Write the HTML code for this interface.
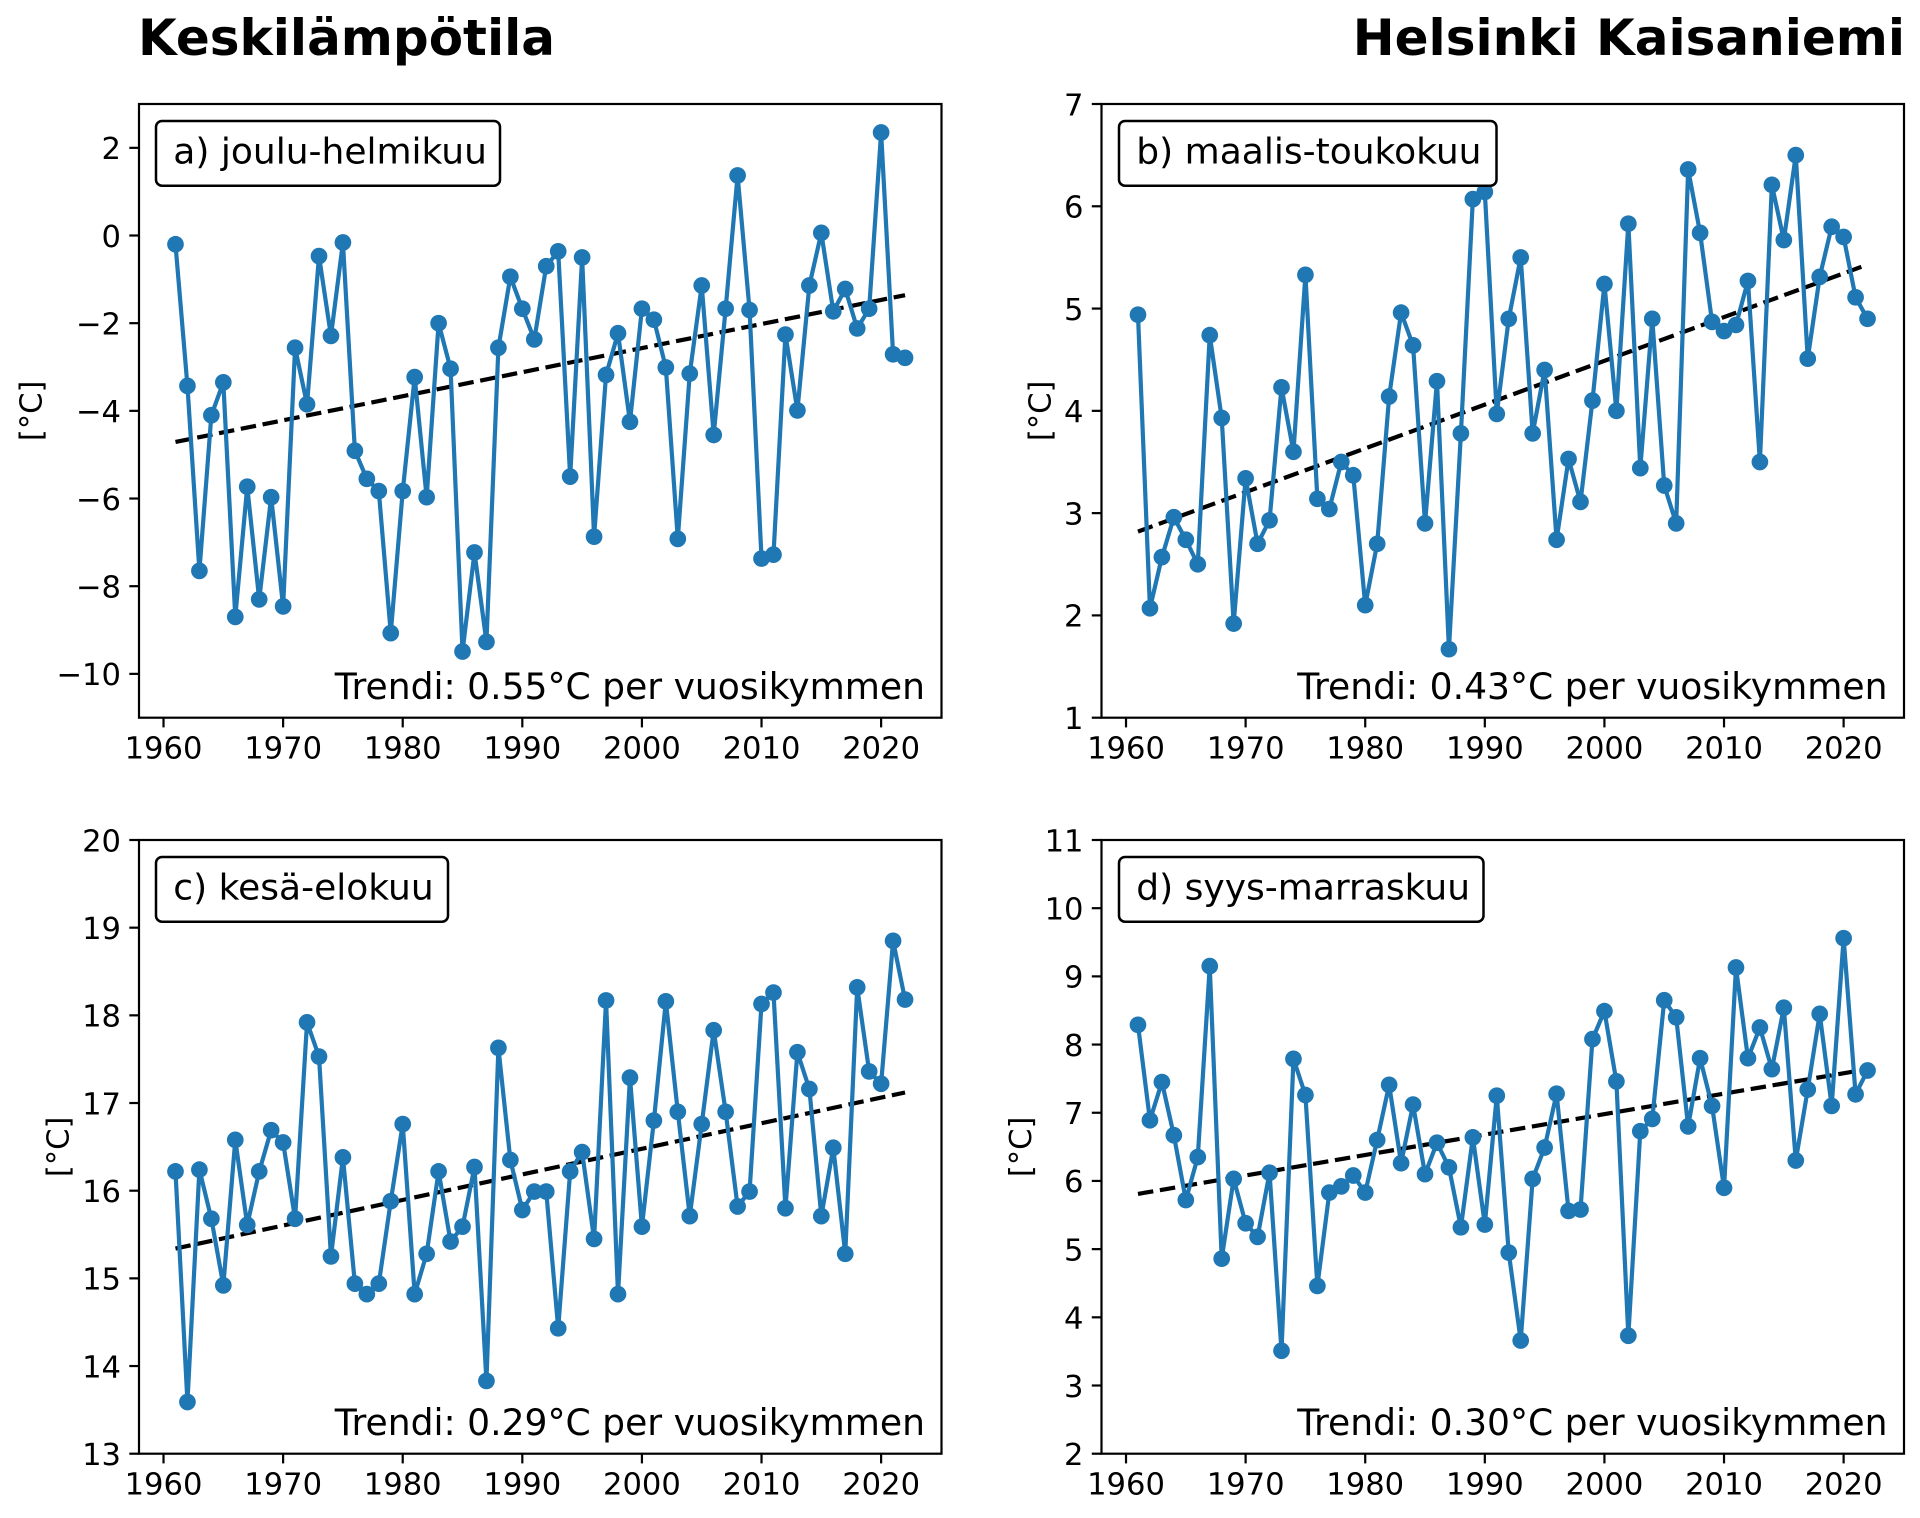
<!DOCTYPE html>
<html><head><meta charset="utf-8"><style>
html,body{margin:0;padding:0;background:#fff;}
svg{display:block;}
text{font-family:"DejaVu Sans","Liberation Sans",sans-serif;fill:#000;}
.tk{font-size:30.6px;}
.lg{font-size:36px;}
.tr{font-size:36.1px;}
.tt{font-size:50px;font-weight:bold;}
</style></head><body>
<svg width="1920" height="1518" viewBox="0 0 1920 1518" xmlns="http://www.w3.org/2000/svg">
<rect x="0" y="0" width="1920" height="1518" fill="#fff"/>

<!-- Titles -->
<text class="tt" x="138" y="55">Keskilämpötila</text>
<text class="tt" x="1905" y="55" text-anchor="end">Helsinki Kaisaniemi</text>

<!-- ===================== PANEL A ===================== -->
<g>
<line x1="175.48" y1="441.98" x2="905.04" y2="295.13" stroke="#000" stroke-width="4.2" stroke-dasharray="15.5 6.7"/>
<g transform="matrix(11.96 0 0 -43.836 -23278.08 235.51)">
<polyline fill="none" stroke="#1f77b4" stroke-width="4.2" stroke-linejoin="round" vector-effect="non-scaling-stroke" points="1961,-0.2 1962,-3.43 1963,-7.65 1964,-4.1 1965,-3.35 1966,-8.7 1967,-5.73 1968,-8.3 1969,-5.97 1970,-8.46 1971,-2.56 1972,-3.85 1973,-0.47 1974,-2.29 1975,-0.16 1976,-4.91 1977,-5.55 1978,-5.83 1979,-9.07 1980,-5.83 1981,-3.23 1982,-5.97 1983,-2.0 1984,-3.04 1985,-9.49 1986,-7.23 1987,-9.27 1988,-2.56 1989,-0.94 1990,-1.67 1991,-2.37 1992,-0.7 1993,-0.36 1994,-5.5 1995,-0.5 1996,-6.87 1997,-3.18 1998,-2.23 1999,-4.25 2000,-1.67 2001,-1.92 2002,-3.01 2003,-6.92 2004,-3.15 2005,-1.14 2006,-4.55 2007,-1.67 2008,1.37 2009,-1.7 2010,-7.37 2011,-7.28 2012,-2.26 2013,-3.99 2014,-1.14 2015,0.06 2016,-1.73 2017,-1.22 2018,-2.12 2019,-1.67 2020,2.35 2021,-2.71 2022,-2.79"/>
<path fill="none" stroke="#1f77b4" stroke-width="16.7" stroke-linecap="round" vector-effect="non-scaling-stroke" d="M1961 -0.2h0M1962 -3.43h0M1963 -7.65h0M1964 -4.1h0M1965 -3.35h0M1966 -8.7h0M1967 -5.73h0M1968 -8.3h0M1969 -5.97h0M1970 -8.46h0M1971 -2.56h0M1972 -3.85h0M1973 -0.47h0M1974 -2.29h0M1975 -0.16h0M1976 -4.91h0M1977 -5.55h0M1978 -5.83h0M1979 -9.07h0M1980 -5.83h0M1981 -3.23h0M1982 -5.97h0M1983 -2.0h0M1984 -3.04h0M1985 -9.49h0M1986 -7.23h0M1987 -9.27h0M1988 -2.56h0M1989 -0.94h0M1990 -1.67h0M1991 -2.37h0M1992 -0.7h0M1993 -0.36h0M1994 -5.5h0M1995 -0.5h0M1996 -6.87h0M1997 -3.18h0M1998 -2.23h0M1999 -4.25h0M2000 -1.67h0M2001 -1.92h0M2002 -3.01h0M2003 -6.92h0M2004 -3.15h0M2005 -1.14h0M2006 -4.55h0M2007 -1.67h0M2008 1.37h0M2009 -1.7h0M2010 -7.37h0M2011 -7.28h0M2012 -2.26h0M2013 -3.99h0M2014 -1.14h0M2015 0.06h0M2016 -1.73h0M2017 -1.22h0M2018 -2.12h0M2019 -1.67h0M2020 2.35h0M2021 -2.71h0M2022 -2.79h0"/>
</g>
<rect x="139" y="104" width="802.5" height="613.7" fill="none" stroke="#000" stroke-width="2.2"/>
<g stroke="#000" stroke-width="2.2">
<line x1="163.52" y1="717.7" x2="163.52" y2="727.4"/><line x1="283.12" y1="717.7" x2="283.12" y2="727.4"/><line x1="402.72" y1="717.7" x2="402.72" y2="727.4"/><line x1="522.32" y1="717.7" x2="522.32" y2="727.4"/><line x1="641.92" y1="717.7" x2="641.92" y2="727.4"/><line x1="761.52" y1="717.7" x2="761.52" y2="727.4"/><line x1="881.12" y1="717.7" x2="881.12" y2="727.4"/>
<line x1="129.3" y1="147.84" x2="139" y2="147.84"/><line x1="129.3" y1="235.51" x2="139" y2="235.51"/><line x1="129.3" y1="323.18" x2="139" y2="323.18"/><line x1="129.3" y1="410.85" x2="139" y2="410.85"/><line x1="129.3" y1="498.53" x2="139" y2="498.53"/><line x1="129.3" y1="586.2" x2="139" y2="586.2"/><line x1="129.3" y1="673.87" x2="139" y2="673.87"/>
</g>
<g text-anchor="middle">
<text class="tk" x="163.52" y="758.5">1960</text><text class="tk" x="283.12" y="758.5">1970</text><text class="tk" x="402.72" y="758.5">1980</text><text class="tk" x="522.32" y="758.5">1990</text><text class="tk" x="641.92" y="758.5">2000</text><text class="tk" x="761.52" y="758.5">2010</text><text class="tk" x="881.12" y="758.5">2020</text>
</g>
<g text-anchor="end">
<text class="tk" x="121" y="159.1">2</text><text class="tk" x="121" y="246.8">0</text><text class="tk" x="121" y="334.5">−2</text><text class="tk" x="121" y="422.2">−4</text><text class="tk" x="121" y="509.8">−6</text><text class="tk" x="121" y="597.5">−8</text><text class="tk" x="121" y="685.2">−10</text>
</g>
<text class="tk" text-anchor="middle" transform="translate(41.6,410.85) rotate(-90)">[°C]</text>
<rect x="156" y="121" width="344" height="64.7" rx="6" ry="6" fill="#fff" stroke="#000" stroke-width="2.5"/>
<text class="lg" x="173.3" y="163.3">a) joulu-helmikuu</text>
<text class="tr" x="925" y="699.2" text-anchor="end">Trendi: 0.55°C per vuosikymmen</text>
</g>

<!-- ===================== PANEL B ===================== -->
<g>
<line x1="1137.98" y1="531.54" x2="1867.54" y2="264.58" stroke="#000" stroke-width="4.2" stroke-dasharray="15.5 6.7"/>
<g transform="matrix(11.96 0 0 -102.283 -22315.58 819.98)">
<polyline fill="none" stroke="#1f77b4" stroke-width="4.2" stroke-linejoin="round" vector-effect="non-scaling-stroke" points="1961,4.94 1962,2.07 1963,2.57 1964,2.96 1965,2.74 1966,2.5 1967,4.74 1968,3.93 1969,1.92 1970,3.34 1971,2.7 1972,2.93 1973,4.23 1974,3.6 1975,5.33 1976,3.14 1977,3.04 1978,3.5 1979,3.37 1980,2.1 1981,2.7 1982,4.14 1983,4.96 1984,4.64 1985,2.9 1986,4.29 1987,1.67 1988,3.78 1989,6.07 1990,6.14 1991,3.97 1992,4.9 1993,5.5 1994,3.78 1995,4.4 1996,2.74 1997,3.53 1998,3.11 1999,4.1 2000,5.24 2001,4.0 2002,5.83 2003,3.44 2004,4.9 2005,3.27 2006,2.9 2007,6.36 2008,5.74 2009,4.87 2010,4.78 2011,4.84 2012,5.27 2013,3.5 2014,6.21 2015,5.67 2016,6.5 2017,4.51 2018,5.31 2019,5.8 2020,5.7 2021,5.11 2022,4.9"/>
<path fill="none" stroke="#1f77b4" stroke-width="16.7" stroke-linecap="round" vector-effect="non-scaling-stroke" d="M1961 4.94h0M1962 2.07h0M1963 2.57h0M1964 2.96h0M1965 2.74h0M1966 2.5h0M1967 4.74h0M1968 3.93h0M1969 1.92h0M1970 3.34h0M1971 2.7h0M1972 2.93h0M1973 4.23h0M1974 3.6h0M1975 5.33h0M1976 3.14h0M1977 3.04h0M1978 3.5h0M1979 3.37h0M1980 2.1h0M1981 2.7h0M1982 4.14h0M1983 4.96h0M1984 4.64h0M1985 2.9h0M1986 4.29h0M1987 1.67h0M1988 3.78h0M1989 6.07h0M1990 6.14h0M1991 3.97h0M1992 4.9h0M1993 5.5h0M1994 3.78h0M1995 4.4h0M1996 2.74h0M1997 3.53h0M1998 3.11h0M1999 4.1h0M2000 5.24h0M2001 4.0h0M2002 5.83h0M2003 3.44h0M2004 4.9h0M2005 3.27h0M2006 2.9h0M2007 6.36h0M2008 5.74h0M2009 4.87h0M2010 4.78h0M2011 4.84h0M2012 5.27h0M2013 3.5h0M2014 6.21h0M2015 5.67h0M2016 6.5h0M2017 4.51h0M2018 5.31h0M2019 5.8h0M2020 5.7h0M2021 5.11h0M2022 4.9h0"/>
</g>
<rect x="1101.5" y="104" width="802.5" height="613.7" fill="none" stroke="#000" stroke-width="2.2"/>
<g stroke="#000" stroke-width="2.2">
<line x1="1126.02" y1="717.7" x2="1126.02" y2="727.4"/><line x1="1245.62" y1="717.7" x2="1245.62" y2="727.4"/><line x1="1365.22" y1="717.7" x2="1365.22" y2="727.4"/><line x1="1484.82" y1="717.7" x2="1484.82" y2="727.4"/><line x1="1604.42" y1="717.7" x2="1604.42" y2="727.4"/><line x1="1724.02" y1="717.7" x2="1724.02" y2="727.4"/><line x1="1843.62" y1="717.7" x2="1843.62" y2="727.4"/>
<line x1="1091.8" y1="717.7" x2="1101.5" y2="717.7"/><line x1="1091.8" y1="615.41" x2="1101.5" y2="615.41"/><line x1="1091.8" y1="513.13" x2="1101.5" y2="513.13"/><line x1="1091.8" y1="410.85" x2="1101.5" y2="410.85"/><line x1="1091.8" y1="308.57" x2="1101.5" y2="308.57"/><line x1="1091.8" y1="206.28" x2="1101.5" y2="206.28"/><line x1="1091.8" y1="104" x2="1101.5" y2="104"/>
</g>
<g text-anchor="middle">
<text class="tk" x="1126.02" y="758.5">1960</text><text class="tk" x="1245.62" y="758.5">1970</text><text class="tk" x="1365.22" y="758.5">1980</text><text class="tk" x="1484.82" y="758.5">1990</text><text class="tk" x="1604.42" y="758.5">2000</text><text class="tk" x="1724.02" y="758.5">2010</text><text class="tk" x="1843.62" y="758.5">2020</text>
</g>
<g text-anchor="end">
<text class="tk" x="1083.5" y="729">1</text><text class="tk" x="1083.5" y="626.7">2</text><text class="tk" x="1083.5" y="524.4">3</text><text class="tk" x="1083.5" y="422.2">4</text><text class="tk" x="1083.5" y="319.9">5</text><text class="tk" x="1083.5" y="217.6">6</text><text class="tk" x="1083.5" y="115.3">7</text>
</g>
<text class="tk" text-anchor="middle" transform="translate(1050.6,410.85) rotate(-90)">[°C]</text>
<rect x="1119" y="121" width="377.5" height="64.7" rx="6" ry="6" fill="#fff" stroke="#000" stroke-width="2.5"/>
<text class="lg" x="1136.3" y="163.3">b) maalis-toukokuu</text>
<text class="tr" x="1887.5" y="699.2" text-anchor="end">Trendi: 0.43°C per vuosikymmen</text>
</g>

<!-- ===================== PANEL C ===================== -->
<g>
<line x1="175.48" y1="1248.56" x2="905.04" y2="1092.5" stroke="#000" stroke-width="4.2" stroke-dasharray="15.5 6.7"/>
<g transform="matrix(11.96 0 0 -87.671 -23278.08 2593.43)">
<polyline fill="none" stroke="#1f77b4" stroke-width="4.2" stroke-linejoin="round" vector-effect="non-scaling-stroke" points="1961,16.22 1962,13.59 1963,16.24 1964,15.68 1965,14.92 1966,16.58 1967,15.61 1968,16.22 1969,16.69 1970,16.55 1971,15.68 1972,17.92 1973,17.53 1974,15.25 1975,16.38 1976,14.94 1977,14.82 1978,14.94 1979,15.88 1980,16.76 1981,14.82 1982,15.28 1983,16.22 1984,15.42 1985,15.59 1986,16.27 1987,13.83 1988,17.63 1989,16.35 1990,15.78 1991,15.99 1992,15.99 1993,14.43 1994,16.22 1995,16.44 1996,15.45 1997,18.17 1998,14.82 1999,17.29 2000,15.59 2001,16.8 2002,18.16 2003,16.9 2004,15.71 2005,16.76 2006,17.83 2007,16.9 2008,15.82 2009,15.99 2010,18.13 2011,18.26 2012,15.8 2013,17.58 2014,17.16 2015,15.71 2016,16.49 2017,15.28 2018,18.32 2019,17.36 2020,17.22 2021,18.85 2022,18.18"/>
<path fill="none" stroke="#1f77b4" stroke-width="16.7" stroke-linecap="round" vector-effect="non-scaling-stroke" d="M1961 16.22h0M1962 13.59h0M1963 16.24h0M1964 15.68h0M1965 14.92h0M1966 16.58h0M1967 15.61h0M1968 16.22h0M1969 16.69h0M1970 16.55h0M1971 15.68h0M1972 17.92h0M1973 17.53h0M1974 15.25h0M1975 16.38h0M1976 14.94h0M1977 14.82h0M1978 14.94h0M1979 15.88h0M1980 16.76h0M1981 14.82h0M1982 15.28h0M1983 16.22h0M1984 15.42h0M1985 15.59h0M1986 16.27h0M1987 13.83h0M1988 17.63h0M1989 16.35h0M1990 15.78h0M1991 15.99h0M1992 15.99h0M1993 14.43h0M1994 16.22h0M1995 16.44h0M1996 15.45h0M1997 18.17h0M1998 14.82h0M1999 17.29h0M2000 15.59h0M2001 16.8h0M2002 18.16h0M2003 16.9h0M2004 15.71h0M2005 16.76h0M2006 17.83h0M2007 16.9h0M2008 15.82h0M2009 15.99h0M2010 18.13h0M2011 18.26h0M2012 15.8h0M2013 17.58h0M2014 17.16h0M2015 15.71h0M2016 16.49h0M2017 15.28h0M2018 18.32h0M2019 17.36h0M2020 17.22h0M2021 18.85h0M2022 18.18h0"/>
</g>
<rect x="139" y="840" width="802.5" height="613.7" fill="none" stroke="#000" stroke-width="2.2"/>
<g stroke="#000" stroke-width="2.2">
<line x1="163.52" y1="1453.7" x2="163.52" y2="1463.4"/><line x1="283.12" y1="1453.7" x2="283.12" y2="1463.4"/><line x1="402.72" y1="1453.7" x2="402.72" y2="1463.4"/><line x1="522.32" y1="1453.7" x2="522.32" y2="1463.4"/><line x1="641.92" y1="1453.7" x2="641.92" y2="1463.4"/><line x1="761.52" y1="1453.7" x2="761.52" y2="1463.4"/><line x1="881.12" y1="1453.7" x2="881.12" y2="1463.4"/>
<line x1="129.3" y1="1453.7" x2="139" y2="1453.7"/><line x1="129.3" y1="1366.03" x2="139" y2="1366.03"/><line x1="129.3" y1="1278.36" x2="139" y2="1278.36"/><line x1="129.3" y1="1190.69" x2="139" y2="1190.69"/><line x1="129.3" y1="1103.02" x2="139" y2="1103.02"/><line x1="129.3" y1="1015.34" x2="139" y2="1015.34"/><line x1="129.3" y1="927.67" x2="139" y2="927.67"/><line x1="129.3" y1="840" x2="139" y2="840"/>
</g>
<g text-anchor="middle">
<text class="tk" x="163.52" y="1494.3">1960</text><text class="tk" x="283.12" y="1494.3">1970</text><text class="tk" x="402.72" y="1494.3">1980</text><text class="tk" x="522.32" y="1494.3">1990</text><text class="tk" x="641.92" y="1494.3">2000</text><text class="tk" x="761.52" y="1494.3">2010</text><text class="tk" x="881.12" y="1494.3">2020</text>
</g>
<g text-anchor="end">
<text class="tk" x="121" y="1465">13</text><text class="tk" x="121" y="1377.3">14</text><text class="tk" x="121" y="1289.7">15</text><text class="tk" x="121" y="1202">16</text><text class="tk" x="121" y="1114.3">17</text><text class="tk" x="121" y="1026.6">18</text><text class="tk" x="121" y="939">19</text><text class="tk" x="121" y="851.3">20</text>
</g>
<text class="tk" text-anchor="middle" transform="translate(68.5,1146.85) rotate(-90)">[°C]</text>
<rect x="156" y="857" width="292" height="64.7" rx="6" ry="6" fill="#fff" stroke="#000" stroke-width="2.5"/>
<text class="lg" x="173.3" y="899.3">c) kesä-elokuu</text>
<text class="tr" x="925" y="1435" text-anchor="end">Trendi: 0.29°C per vuosikymmen</text>
</g>

<!-- ===================== PANEL D ===================== -->
<g>
<line x1="1137.98" y1="1193.9" x2="1867.54" y2="1069.12" stroke="#000" stroke-width="4.2" stroke-dasharray="15.5 6.7"/>
<g transform="matrix(11.96 0 0 -68.189 -22315.58 1590.08)">
<polyline fill="none" stroke="#1f77b4" stroke-width="4.2" stroke-linejoin="round" vector-effect="non-scaling-stroke" points="1961,8.29 1962,6.89 1963,7.45 1964,6.67 1965,5.72 1966,6.35 1967,9.15 1968,4.86 1969,6.03 1970,5.38 1971,5.18 1972,6.12 1973,3.51 1974,7.79 1975,7.26 1976,4.46 1977,5.83 1978,5.92 1979,6.08 1980,5.83 1981,6.6 1982,7.41 1983,6.26 1984,7.12 1985,6.1 1986,6.56 1987,6.2 1988,5.32 1989,6.64 1990,5.36 1991,7.25 1992,4.95 1993,3.66 1994,6.03 1995,6.49 1996,7.28 1997,5.56 1998,5.58 1999,8.08 2000,8.49 2001,7.46 2002,3.73 2003,6.73 2004,6.91 2005,8.65 2006,8.4 2007,6.8 2008,7.8 2009,7.1 2010,5.9 2011,9.13 2012,7.8 2013,8.25 2014,7.64 2015,8.54 2016,6.3 2017,7.34 2018,8.45 2019,7.1 2020,9.56 2021,7.27 2022,7.62"/>
<path fill="none" stroke="#1f77b4" stroke-width="16.7" stroke-linecap="round" vector-effect="non-scaling-stroke" d="M1961 8.29h0M1962 6.89h0M1963 7.45h0M1964 6.67h0M1965 5.72h0M1966 6.35h0M1967 9.15h0M1968 4.86h0M1969 6.03h0M1970 5.38h0M1971 5.18h0M1972 6.12h0M1973 3.51h0M1974 7.79h0M1975 7.26h0M1976 4.46h0M1977 5.83h0M1978 5.92h0M1979 6.08h0M1980 5.83h0M1981 6.6h0M1982 7.41h0M1983 6.26h0M1984 7.12h0M1985 6.1h0M1986 6.56h0M1987 6.2h0M1988 5.32h0M1989 6.64h0M1990 5.36h0M1991 7.25h0M1992 4.95h0M1993 3.66h0M1994 6.03h0M1995 6.49h0M1996 7.28h0M1997 5.56h0M1998 5.58h0M1999 8.08h0M2000 8.49h0M2001 7.46h0M2002 3.73h0M2003 6.73h0M2004 6.91h0M2005 8.65h0M2006 8.4h0M2007 6.8h0M2008 7.8h0M2009 7.1h0M2010 5.9h0M2011 9.13h0M2012 7.8h0M2013 8.25h0M2014 7.64h0M2015 8.54h0M2016 6.3h0M2017 7.34h0M2018 8.45h0M2019 7.1h0M2020 9.56h0M2021 7.27h0M2022 7.62h0"/>
</g>
<rect x="1101.5" y="840" width="802.5" height="613.7" fill="none" stroke="#000" stroke-width="2.2"/>
<g stroke="#000" stroke-width="2.2">
<line x1="1126.02" y1="1453.7" x2="1126.02" y2="1463.4"/><line x1="1245.62" y1="1453.7" x2="1245.62" y2="1463.4"/><line x1="1365.22" y1="1453.7" x2="1365.22" y2="1463.4"/><line x1="1484.82" y1="1453.7" x2="1484.82" y2="1463.4"/><line x1="1604.42" y1="1453.7" x2="1604.42" y2="1463.4"/><line x1="1724.02" y1="1453.7" x2="1724.02" y2="1463.4"/><line x1="1843.62" y1="1453.7" x2="1843.62" y2="1463.4"/>
<line x1="1091.8" y1="1453.7" x2="1101.5" y2="1453.7"/><line x1="1091.8" y1="1385.51" x2="1101.5" y2="1385.51"/><line x1="1091.8" y1="1317.32" x2="1101.5" y2="1317.32"/><line x1="1091.8" y1="1249.13" x2="1101.5" y2="1249.13"/><line x1="1091.8" y1="1180.94" x2="1101.5" y2="1180.94"/><line x1="1091.8" y1="1112.75" x2="1101.5" y2="1112.75"/><line x1="1091.8" y1="1044.56" x2="1101.5" y2="1044.56"/><line x1="1091.8" y1="976.38" x2="1101.5" y2="976.38"/><line x1="1091.8" y1="908.19" x2="1101.5" y2="908.19"/><line x1="1091.8" y1="840" x2="1101.5" y2="840"/>
</g>
<g text-anchor="middle">
<text class="tk" x="1126.02" y="1494.3">1960</text><text class="tk" x="1245.62" y="1494.3">1970</text><text class="tk" x="1365.22" y="1494.3">1980</text><text class="tk" x="1484.82" y="1494.3">1990</text><text class="tk" x="1604.42" y="1494.3">2000</text><text class="tk" x="1724.02" y="1494.3">2010</text><text class="tk" x="1843.62" y="1494.3">2020</text>
</g>
<g text-anchor="end">
<text class="tk" x="1083.5" y="1465">2</text><text class="tk" x="1083.5" y="1396.8">3</text><text class="tk" x="1083.5" y="1328.6">4</text><text class="tk" x="1083.5" y="1260.4">5</text><text class="tk" x="1083.5" y="1192.2">6</text><text class="tk" x="1083.5" y="1124">7</text><text class="tk" x="1083.5" y="1055.9">8</text><text class="tk" x="1083.5" y="987.7">9</text><text class="tk" x="1083.5" y="919.5">10</text><text class="tk" x="1083.5" y="851.3">11</text>
</g>
<text class="tk" text-anchor="middle" transform="translate(1031,1146.85) rotate(-90)">[°C]</text>
<rect x="1119" y="857" width="364.5" height="64.7" rx="6" ry="6" fill="#fff" stroke="#000" stroke-width="2.5"/>
<text class="lg" x="1136.3" y="899.3">d) syys-marraskuu</text>
<text class="tr" x="1887.5" y="1435" text-anchor="end">Trendi: 0.30°C per vuosikymmen</text>
</g>
</svg>
</body></html>
